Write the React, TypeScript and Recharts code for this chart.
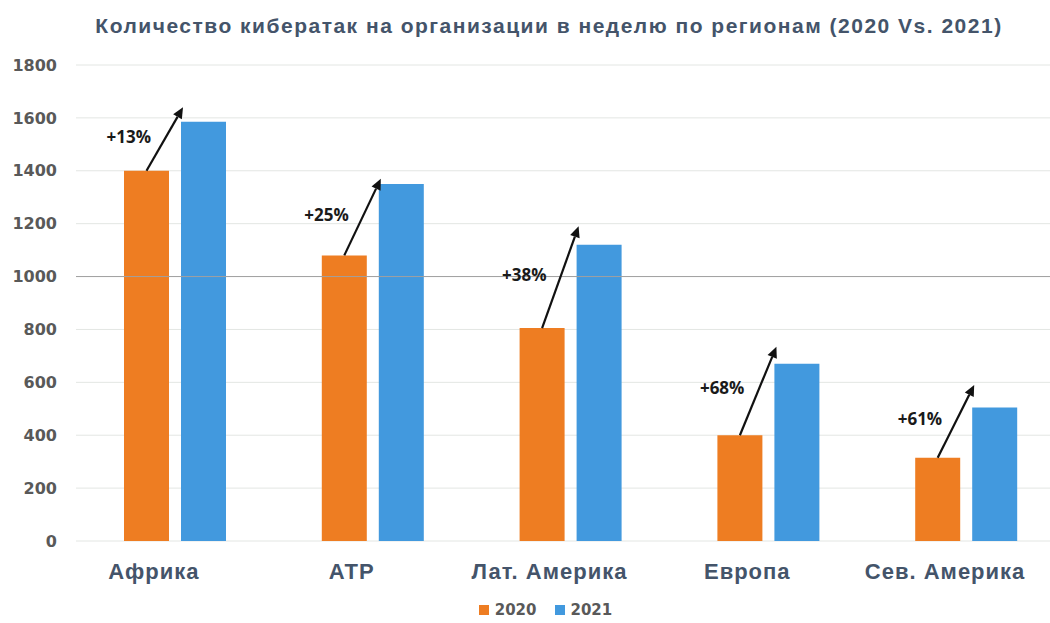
import { BarChart, Bar, XAxis, YAxis, CartesianGrid, Legend, LabelList, ReferenceLine } from "recharts";

const regions = ["Африка", "АТР", "Лат. Америка", "Европа", "Сев. Америка"];
const attacks2020 = [1400, 1080, 805, 400, 315];
const attacks2021 = [1585, 1350, 1120, 670, 505];
const growth = ["+13%", "+25%", "+38%", "+68%", "+61%"];
// where each arrow's head ends, in attacks per week
const arrowTips = [1640, 1370, 1190, 735, 590];
const yTicks = [0, 200, 400, 600, 800, 1000, 1200, 1400, 1600, 1800];

const ORANGE = "#EE7D22";
const BLUE = "#4299DE";
const SLATE = "#44546A";
const BAR_GAP = 12;

const data = regions.map((region, i) => ({
  region,
  y2020: attacks2020[i],
  y2021: attacks2021[i],
}));

function GrowthArrow(props: any) {
  const { x, y, width, height, index } = props;
  const v = attacks2020[index];
  if (!v || !height) return null;
  const perUnit = height / v;
  const bottom = y + height;
  const x1 = x + width / 2;
  const y1 = y;
  const x2 = x + width + BAR_GAP + 2;
  const y2 = bottom - arrowTips[index] * perUnit;
  const ang = Math.atan2(y2 - y1, x2 - x1);
  const head = 11;
  const half = 5;
  const bx = x2 - head * Math.cos(ang);
  const by = y2 - head * Math.sin(ang);
  const px = -Math.sin(ang) * half;
  const py = Math.cos(ang) * half;
  const mx = (x1 + x2) / 2;
  const my = (y1 + y2) / 2;
  return (
    <g>
      <line x1={x1} y1={y1} x2={bx} y2={by} stroke="#111" strokeWidth={2.2} />
      <polygon points={`${x2},${y2} ${bx + px},${by + py} ${bx - px},${by - py}`} fill="#111" />
      <text
        x={mx - 36}
        y={my - 3}
        textAnchor="middle"
        dominantBaseline="central"
        fontFamily="'Open Sans', sans-serif"
        fontWeight={700}
        fontSize={17}
        fill="#1a1a1a"
      >
        {growth[index]}
      </text>
    </g>
  );
}

function RegionTick(props: any) {
  const { x, y, payload } = props;
  return (
    <text
      x={x - 21}
      y={y + 22}
      textAnchor="middle"
      dominantBaseline="central"
      fontFamily="'Liberation Sans', Arial, sans-serif"
      fontWeight={700}
      fontSize={22}
      letterSpacing={1}
      fill={SLATE}
    >
      {payload.value}
    </text>
  );
}

function LegendBox(props: any) {
  const items = props.payload || [];
  return (
    <div style={{ display: "flex", justifyContent: "center", gap: 18, height: 26, alignItems: "center", paddingLeft: 26 }}>
      {items.map((it: any) => (
        <div key={it.value} style={{ display: "flex", alignItems: "center", gap: 6 }}>
          <span style={{ width: 10, height: 10, background: it.color, display: "inline-block" }} />
          <span style={{ fontFamily: "'DejaVu Sans', sans-serif", fontWeight: 700, fontSize: 15, color: "#595959" }}>
            {it.value}
          </span>
        </div>
      ))}
    </div>
  );
}

export default function App() {
  return (
    <div style={{ position: "absolute", left: 0, top: 0, width: 1050, height: 623, overflow: "hidden", background: "#fff" }}>
      <div
        style={{
          position: "absolute",
          top: 14,
          left: 0,
          width: 1098,
          textAlign: "center",
          fontFamily: "'Liberation Sans', Arial, sans-serif",
          fontWeight: 700,
          fontSize: 21,
          letterSpacing: 1.5,
          color: SLATE,
        }}
      >
        Количество кибератак на организации в неделю по регионам (2020 Vs. 2021)
      </div>
      <div style={{ position: "absolute", left: 0, top: 0 }}>
        <BarChart
          width={1065}
          height={623}
          data={data}
          margin={{ top: 65, right: 0, bottom: 0, left: 0 }}
          barSize={45}
          barGap={BAR_GAP}
        >
          <CartesianGrid vertical={false} stroke="#e3e6e3" />
          <ReferenceLine y={1000} stroke="#a0a0a0" />
          <XAxis
            dataKey="region"
            axisLine={false}
            tickLine={false}
            height={56}
            interval={0}
            tick={<RegionTick />}
          />
          <YAxis
            domain={[0, 1800]}
            ticks={yTicks}
            width={76}
            axisLine={false}
            tickLine={false}
            tickMargin={13}
            tick={{ fontFamily: "'DejaVu Sans', sans-serif", fontWeight: 700, fontSize: 16, fill: "#595959" }}
          />
          <Legend verticalAlign="bottom" content={<LegendBox />} />
          <Bar dataKey="y2020" name="2020" fill={ORANGE} isAnimationActive={false}>
            <LabelList dataKey="y2020" content={<GrowthArrow />} />
          </Bar>
          <Bar dataKey="y2021" name="2021" fill={BLUE} isAnimationActive={false} />
        </BarChart>
      </div>
    </div>
  );
}
